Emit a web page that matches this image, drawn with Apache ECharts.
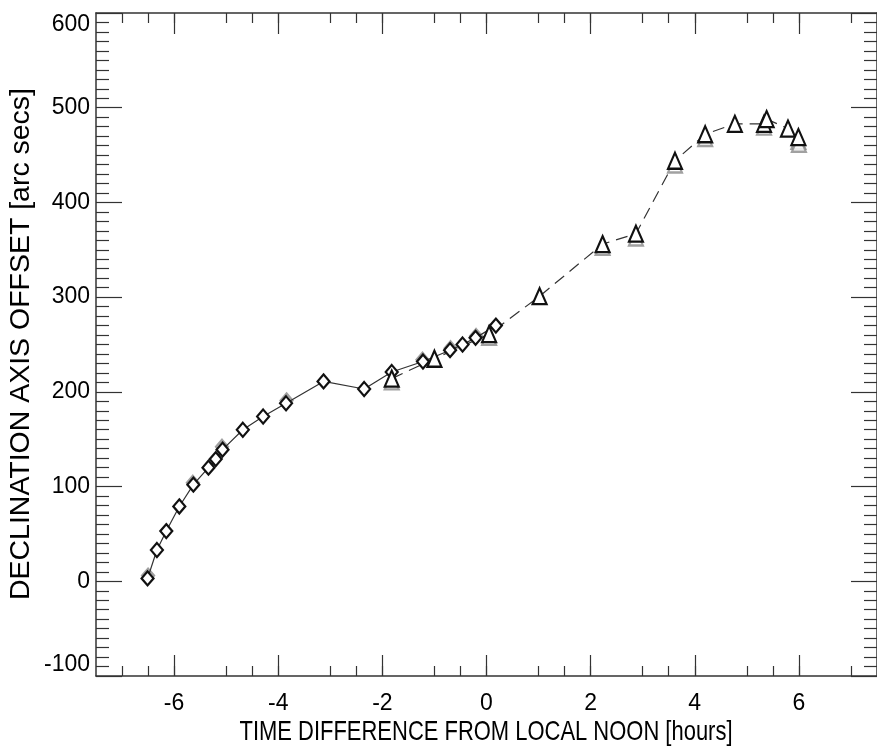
<!DOCTYPE html>
<html>
<head>
<meta charset="utf-8">
<script src="https://cdn.jsdelivr.net/npm/echarts@6/dist/echarts.min.js"></script>
<style>
  html, body { margin: 0; padding: 0; background: #fff; }
  #chart { width: 877px; height: 747px; }
</style>
</head>
<body>
<div id="chart"></div>
<script>
// Morning pass (diamonds, solid line)
const hoursMorning  = [-6.51, -6.33, -6.15, -5.90, -5.63, -5.34, -5.20, -5.07, -4.68, -4.29, -3.85, -3.13, -2.35, -1.82, -1.22, -0.70, -0.46, -0.21, 0.18];
const offsetMorning = [3, 33, 53, 79, 102, 120, 129, 139, 160, 174, 188, 211, 203, 221, 232, 244, 250, 257, 270];

// Afternoon pass (triangles, dashed line)
const hoursAfternoon  = [-1.82, -1.00, 0.05, 1.02, 2.23, 2.87, 3.62, 4.20, 4.77, 5.33, 5.38, 5.79, 5.99];
const offsetAfternoon = [214, 235, 261, 301, 356, 367, 444, 472, 483, 483, 488, 478, 469];

// Repeat measurements drawn underneath in grey
const hoursRepeatD  = [-6.50, -5.64, -5.08, -3.84, -1.23, -0.69, -0.20];
const offsetRepeatD = [6, 104, 142, 191, 234, 246, 259];
const hoursRepeatT  = [-1.82, 0.05, 2.23, 2.87, 3.62, 4.20, 5.33, 5.99, 6.00];
const offsetRepeatT = [211, 258, 353, 363, 440, 468, 480, 465, 462];

const xTicks = { min: -7.5, max: 7.5, interval: 2 };
const yTicks = { min: -100, max: 600, interval: 100 };

const xTitle = 'TIME DIFFERENCE FROM LOCAL NOON [hours]';
const yTitle = 'DECLINATION AXIS OFFSET [arc secs]';

const pairs = (xs, ys) => xs.map((x, i) => [x, ys[i]]);

const chart = echarts.init(document.getElementById('chart'), null, { renderer: 'canvas' });

const axisColor = '#333';
const labelFont = { fontFamily: '"Liberation Sans", Arial, sans-serif', fontSize: 23, color: '#000' };

function measure(text, font) {
  const c = document.createElement('canvas').getContext('2d');
  c.font = font;
  return c.measureText(text).width;
}
const titleFont = '28px "Liberation Sans", Arial, sans-serif';
const xTitleScale = 493 / measure(xTitle, titleFont);
const yTitleScale = 512 / measure(yTitle, titleFont);

function xAxisDef(pos, showLabel) {
  return {
    type: 'value', position: pos,
    min: xTicks.min, max: xTicks.max, interval: xTicks.interval,
    axisLine: { show: true, onZero: false, lineStyle: { color: axisColor, width: 1.5 } },
    axisTick: { show: true, inside: true, length: 21, lineStyle: { color: axisColor, width: 1.2 }, customValues: [-6, -4, -2, 0, 2, 4, 6] },
    minorTick: { show: true, splitNumber: 4, length: 10, lineStyle: { color: axisColor, width: 1.2 } },
    axisLabel: Object.assign({ show: showLabel, margin: 16, customValues: [-6, -4, -2, 0, 2, 4, 6] }, labelFont),
    splitLine: { show: false }
  };
}
function yAxisDef(pos, showLabel) {
  return {
    type: 'value', position: pos,
    min: yTicks.min, max: yTicks.max, interval: yTicks.interval,
    axisLine: { show: true, onZero: false, lineStyle: { color: axisColor, width: 1.5 } },
    axisTick: { show: true, inside: true, length: 26, lineStyle: { color: axisColor, width: 1.2 } },
    minorTick: { show: true, splitNumber: 10, length: 13, lineStyle: { color: axisColor, width: 1.2 } },
    axisLabel: Object.assign({ show: showLabel, margin: 6, verticalAlignMaxLabel: 'top', verticalAlignMinLabel: 'bottom' }, labelFont),
    splitLine: { show: false }
  };
}

chart.setOption({
  backgroundColor: '#fff',
  animation: false,
  grid: { left: 96, top: 13, right: -2, bottom: 71, containLabel: false },
  xAxis: [xAxisDef('bottom', true), xAxisDef('top', false)],
  yAxis: [yAxisDef('left', true), yAxisDef('right', false)],
  graphic: [
    {
      type: 'text', x: 486, y: 732, scaleX: xTitleScale,
      style: { text: xTitle, font: titleFont, fill: '#000', textAlign: 'center', textVerticalAlign: 'middle' }
    },
    {
      type: 'text', x: 21, y: 344, rotation: Math.PI / 2, scaleX: yTitleScale,
      style: { text: yTitle, font: titleFont, fill: '#000', textAlign: 'center', textVerticalAlign: 'middle' }
    }
  ],
  series: [
    {
      type: 'scatter', data: pairs(hoursRepeatD, offsetRepeatD),
      symbol: 'diamond', symbolSize: [12, 14],
      itemStyle: { color: '#fff', borderColor: '#8a8a8a', borderWidth: 2.2 }, z: 1
    },
    {
      type: 'scatter', data: pairs(hoursRepeatT, offsetRepeatT),
      symbol: 'triangle', symbolSize: [14, 16],
      itemStyle: { color: '#fff', borderColor: '#8a8a8a', borderWidth: 2.2 }, z: 1
    },
    {
      type: 'line', data: pairs(hoursMorning, offsetMorning),
      symbol: 'diamond', symbolSize: [12, 14], showAllSymbol: true,
      lineStyle: { color: '#333', width: 1.2 },
      itemStyle: { color: '#fff', borderColor: '#111', borderWidth: 2.2 }, z: 3
    },
    {
      type: 'line', data: pairs(hoursAfternoon, offsetAfternoon),
      symbol: 'triangle', symbolSize: [14, 16], showAllSymbol: true,
      lineStyle: { color: '#333', width: 1.2, type: [12, 7] },
      itemStyle: { color: '#fff', borderColor: '#111', borderWidth: 2.2 }, z: 3
    }
  ]
});
</script>
</body>
</html>
